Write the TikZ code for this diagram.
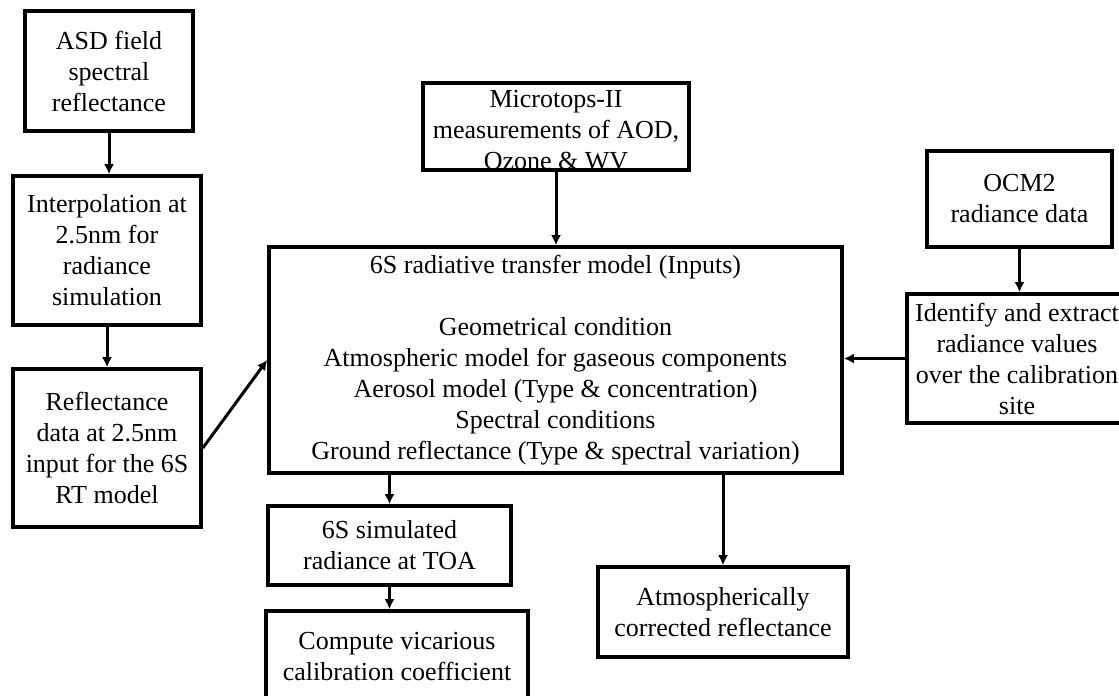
\documentclass[tikz,border=0pt]{standalone}
\usepackage{fontspec}
\setmainfont{Liberation Serif}
\usetikzlibrary{arrows.meta}

\begin{document}
\begin{tikzpicture}[x=0.5pt,y=-0.5pt,
  txt/.style={align=center,inner sep=0pt,font=\fontsize{13}{15.5}\selectfont},
  blk/.style 2 args={txt,draw,line width=1.8pt,minimum width=#1*0.5pt,minimum height=#2*0.5pt},
  arr/.style={-{Latex[length=5pt,width=5pt]},line width=1.5pt}]
\clip (0,0) rectangle (1119,696);
\foreach \nm/\cx/\cy/\w/\h/\lbl in %
{asd/109/71/168/120/{ASD field\\spectral\\reflectance},
 interp/107/250.5/188/149/{Interpolation at\\2.5nm for\\radiance\\simulation},
 refl/107/448/188/158/{Reflectance\\data at 2.5nm\\input for the 6S\\RT model},
 sixs/555.5/360/573/226/{6S radiative transfer model (Inputs)\\[15.5pt]Geometrical condition\\Atmospheric model for gaseous components\\Aerosol model (Type \& concentration)\\Spectral conditions\\Ground reflectance (Type \& spectral variation)},
 ocm/1019.5/199/185/96/{OCM2\\radiance data},
 ident/1017/358.5/220/129/{Identify and extract\\radiance values\\over the calibration\\site},
 sim/389.5/545.5/243/79/{6S simulated\\radiance at TOA},
 comp/397/656.5/262/91/{Compute vicarious\\calibration coefficient},
 atm/723/612/250/90/{Atmospherically\\corrected reflectance}} {
   \node[blk={\w}{\h}] (\nm) at (\cx,\cy) {\lbl};
}
\node[blk={266}{87}] (micro) at (556,126.5) {};
\node[txt] (microtxt) at (556,130) {Microtops-II\\measurements of AOD,\\Ozone \& WV};
\draw[arr] (asd.south) -- (asd.south |- interp.north);
\draw[arr] (interp.south) -- (interp.south |- refl.north);
\draw[arr] (refl.east) -- (sixs.west);
\draw[arr] (micro.south) -- (micro.south |- sixs.north);
\draw[arr] (ocm.south) -- (ocm.south |- ident.north);
\draw[arr] (ident.west) -- (ident.west -| sixs.east);
\draw[arr] (sim.north |- sixs.south) -- (sim.north);
\draw[arr] (atm.north |- sixs.south) -- (atm.north);
\draw[arr] (sim.south) -- (sim.south |- comp.north);
\end{tikzpicture}
\end{document}
